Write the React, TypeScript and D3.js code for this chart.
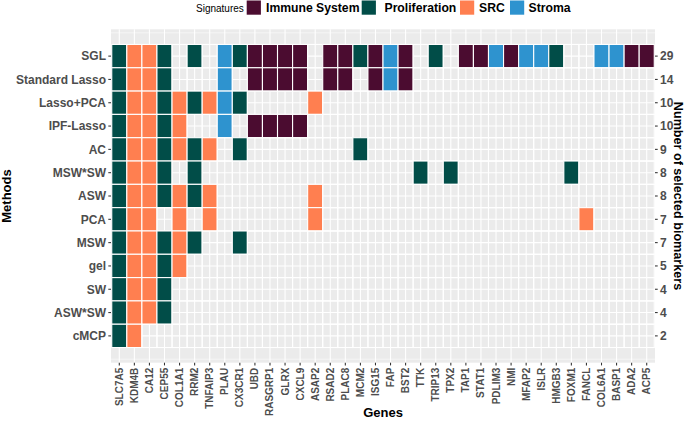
import React from "react";
import * as d3 from "d3";

const methods = ["SGL", "Standard Lasso", "Lasso+PCA", "IPF-Lasso", "AC", "MSW*SW", "ASW", "PCA", "MSW", "gel", "SW", "ASW*SW", "cMCP"];
const counts = [29, 14, 10, 10, 9, 8, 8, 7, 7, 5, 4, 4, 2];

const genes = ["SLC7A5", "KDM4B", "CA12", "CEP55", "COL1A1", "RRM2", "TNFAIP3", "PLAU", "CX3CR1", "UBD", "RASGRP1", "GLRX", "CXCL9", "ASAP2", "RSAD2", "PLAC8", "MCM2", "ISG15", "FAP", "BST2", "TTK", "TRIP13", "TPX2", "TAP1", "STAT1", "PDLIM3", "NMI", "MFAP2", "ISLR", "HMGB3", "FOXM1", "FANCL", "COL6A1", "BASP1", "ADA2", "ACP5"];

const geneSignature = ["Proliferation", "SRC", "SRC", "Proliferation", "SRC", "Proliferation", "SRC", "Stroma", "Proliferation", "Immune System", "Immune System", "Immune System", "Immune System", "SRC", "Immune System", "Immune System", "Proliferation", "Immune System", "Stroma", "Immune System", "Proliferation", "Proliferation", "Proliferation", "Immune System", "Immune System", "Stroma", "Immune System", "Stroma", "Stroma", "Proliferation", "Proliferation", "SRC", "Stroma", "Stroma", "Immune System", "Immune System"];

const signatures = ["Immune System", "Proliferation", "SRC", "Stroma"];
const signatureColors = ["#4B0C30", "#014D48", "#FF7F50", "#2E93CF"];

const selSGL = ["SLC7A5", "KDM4B", "CA12", "CEP55", "RRM2", "PLAU", "CX3CR1", "UBD", "RASGRP1", "GLRX", "CXCL9", "RSAD2", "PLAC8", "MCM2", "ISG15", "FAP", "BST2", "TRIP13", "TAP1", "STAT1", "PDLIM3", "NMI", "MFAP2", "ISLR", "HMGB3", "COL6A1", "BASP1", "ADA2", "ACP5"];
const selStdLasso = ["SLC7A5", "KDM4B", "CA12", "CEP55", "PLAU", "UBD", "RASGRP1", "GLRX", "CXCL9", "RSAD2", "PLAC8", "ISG15", "FAP", "BST2"];
const selLassoPCA = ["SLC7A5", "KDM4B", "CA12", "CEP55", "COL1A1", "RRM2", "TNFAIP3", "PLAU", "CX3CR1", "ASAP2"];
const selIPFLasso = ["SLC7A5", "KDM4B", "CA12", "CEP55", "COL1A1", "PLAU", "UBD", "RASGRP1", "GLRX", "CXCL9"];
const selAC = ["SLC7A5", "KDM4B", "CA12", "CEP55", "COL1A1", "RRM2", "TNFAIP3", "CX3CR1", "MCM2"];
const selMSWSW = ["SLC7A5", "KDM4B", "CA12", "CEP55", "RRM2", "TTK", "TPX2", "FOXM1"];
const selASW = ["SLC7A5", "KDM4B", "CA12", "CEP55", "COL1A1", "RRM2", "TNFAIP3", "ASAP2"];
const selPCA = ["SLC7A5", "KDM4B", "CA12", "COL1A1", "TNFAIP3", "ASAP2", "FANCL"];
const selMSW = ["SLC7A5", "KDM4B", "CA12", "CEP55", "COL1A1", "RRM2", "CX3CR1"];
const selGel = ["SLC7A5", "KDM4B", "CA12", "CEP55", "COL1A1"];
const selSW = ["SLC7A5", "KDM4B", "CA12", "CEP55"];
const selASWSW = ["SLC7A5", "KDM4B", "CA12", "CEP55"];
const selCMCP = ["SLC7A5", "KDM4B"];

const selections = [selSGL, selStdLasso, selLassoPCA, selIPFLasso, selAC, selMSWSW, selASW, selPCA, selMSW, selGel, selSW, selASWSW, selCMCP];

const W = 685;
const H = 426;
const FONT = "'Liberation Sans', Arial, Helvetica, sans-serif";
const PANEL = { left: 111, right: 655, top: 29.3, bottom: 362.7 };

export default function App() {
  const nG = genes.length;
  const nM = methods.length;
  const x = d3.scaleLinear().domain([0.45, nG + 0.55]).range([PANEL.left, PANEL.right]);
  const y = d3.scaleLinear().domain([0.5 - 0.65, nM + 0.5 + 0.65]).range([PANEL.bottom, PANEL.top]);
  const color = d3.scaleOrdinal<string, string>().domain(signatures).range(signatureColors);

  const yPos = (i: number) => nM - i; // SGL at top
  const minorY = d3.range(0, nM + 1.01, 0.5).filter((v) => v % 1 !== 0 || v === 0 || v === nM + 1);
  const majorY = d3.range(1, nM + 1);
  const majorX = d3.range(1, nG + 1);

  const cells: { gi: number; mi: number; sig: string | null }[] = [];
  methods.forEach((m, mi) => {
    genes.forEach((g, gi) => {
      const sel = selections[mi].includes(g);
      cells.push({ gi, mi, sig: sel ? geneSignature[gi] : null });
    });
  });

  const cw = x(1.5) - x(0.5);
  const ch = y(0.5) - y(1.5);

  const legendKeys = [246.7, 361.7, 460, 510];
  const legendLabels = [266, 384.5, 479, 528.5];

  return (
    <svg width={W} height={H} style={{ position: "fixed", left: 0, top: 0, background: "#fff" }} fontFamily={FONT}>
      {/* legend */}
      <text x={196} y={11.5} fontSize={10} fill="#000">Signatures</text>
      {signatures.map((s, i) => (
        <g key={s}>
          <rect x={legendKeys[i]} y={0.5} width={14.2} height={14.2} fill={color(s)} />
          <text x={legendLabels[i]} y={12} fontSize={12.2} fontWeight="bold" fill="#000">{s}</text>
        </g>
      ))}

      {/* panel */}
      <rect x={PANEL.left} y={PANEL.top} width={PANEL.right - PANEL.left} height={PANEL.bottom - PANEL.top} fill="#EBEBEB" />
      {minorY.map((v) => (
        <line key={"my" + v} x1={PANEL.left} x2={PANEL.right} y1={y(v)} y2={y(v)} stroke="#fff" strokeWidth={0.55} />
      ))}
      {majorY.map((v) => (
        <line key={"My" + v} x1={PANEL.left} x2={PANEL.right} y1={y(v)} y2={y(v)} stroke="#fff" strokeWidth={1.07} />
      ))}
      {majorX.map((v) => (
        <line key={"Mx" + v} x1={x(v)} x2={x(v)} y1={PANEL.top} y2={PANEL.bottom} stroke="#fff" strokeWidth={1.07} />
      ))}

      {/* tiles */}
      {cells.map((c) => (
        <rect
          key={c.mi + "-" + c.gi}
          x={x(c.gi + 1) - cw / 2}
          y={y(yPos(c.mi)) - ch / 2}
          width={cw}
          height={ch}
          fill={c.sig ? color(c.sig) : "none"}
          stroke="#fff"
          strokeWidth={1.1}
        />
      ))}

      {/* left axis */}
      {methods.map((m, i) => (
        <g key={"l" + m}>
          <line x1={PANEL.left - 2.7} x2={PANEL.left} y1={y(yPos(i))} y2={y(yPos(i))} stroke="#333" strokeWidth={1.07} />
          <text x={PANEL.left - 5} y={y(yPos(i))} dy="0.36em" textAnchor="end" fontSize={12} fontWeight="bold" fill="#4D4D4D">{m}</text>
        </g>
      ))}

      {/* right axis */}
      {counts.map((c, i) => (
        <g key={"r" + i}>
          <line x1={PANEL.right} x2={PANEL.right + 2.7} y1={y(yPos(i))} y2={y(yPos(i))} stroke="#333" strokeWidth={1.07} />
          <text x={PANEL.right + 5} y={y(yPos(i))} dy="0.36em" textAnchor="start" fontSize={12} fontWeight="bold" fill="#4D4D4D">{c}</text>
        </g>
      ))}

      {/* bottom axis */}
      {genes.map((g, gi) => (
        <g key={"b" + g}>
          <line x1={x(gi + 1)} x2={x(gi + 1)} y1={PANEL.bottom} y2={PANEL.bottom + 2.7} stroke="#333" strokeWidth={1.07} />
          <text
            transform={`translate(${x(gi + 1)},${PANEL.bottom + 5}) rotate(-90)`}
            dy="0.35em"
            textAnchor="end"
            fontSize={10}
            fontWeight="bold"
            fill="#4D4D4D"
          >
            {g}
          </text>
        </g>
      ))}

      {/* titles */}
      <text x={(PANEL.left + PANEL.right) / 2} y={417} textAnchor="middle" fontSize={13} fontWeight="bold" fill="#000">Genes</text>
      <text transform={`translate(11,${(PANEL.top + PANEL.bottom) / 2}) rotate(-90)`} textAnchor="middle" fontSize={13} fontWeight="bold" fill="#000">Methods</text>
      <text transform={`translate(674,${(PANEL.top + PANEL.bottom) / 2}) rotate(90)`} textAnchor="middle" fontSize={12.6} fontWeight="bold" fill="#000">Number of selected biomarkers</text>
    </svg>
  );
}
